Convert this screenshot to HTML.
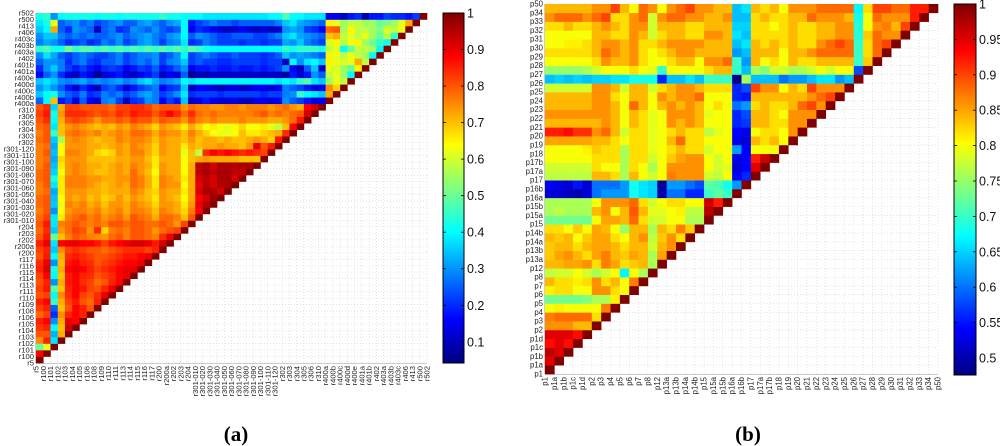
<!DOCTYPE html>
<html><head><meta charset="utf-8"><style>
body{margin:0;background:#fff;}
svg{display:block;font-family:"Liberation Sans",sans-serif;}
</style></head><body>
<svg id="fig" width="1000" height="446" viewBox="0 0 1000 446" xmlns="http://www.w3.org/2000/svg"></svg>
<script>
const labelsA=["r5","r100","r101","r102","r103","r104","r105","r106","r108","r109","r110","r111","r113","r114","r115","r116","r117","r200","r200a","r202","r203","r204","r301-010","r301-020","r301-030","r301-040","r301-050","r301-060","r301-070","r301-080","r301-090","r301-100","r301-110","r301-120","r302","r303","r304","r305","r306","r310","r400a","r400b","r400c","r400d","r400e","r401a","r401b","r402","r403a","r403b","r403c","r406","r413","r500","r502"];
const rowsA=[
[100],
[88,100],
[50,62,100],
[75,85,38,100],
[80,80,33,72,100],
[83,85,40,70,92,100],
[85,88,30,72,90,88,100],
[78,82,20,75,85,88,85,100],
[82,85,25,70,80,88,85,80,100],
[85,88,45,72,82,86,80,78,85,100],
[80,82,40,75,84,88,82,80,84,90,100],
[82,86,48,70,85,88,86,82,80,85,90,100],
[80,85,30,72,86,88,84,82,78,80,85,88,100],
[82,88,40,70,86,88,85,84,80,82,84,88,90,100],
[85,92,42,72,88,90,88,85,82,84,86,88,90,90,100],
[84,90,30,70,86,88,85,84,80,82,84,86,88,88,90,100],
[80,86,40,72,84,86,84,82,80,80,82,84,86,86,88,90,100],
[82,85,35,75,82,84,82,80,80,78,80,82,84,84,84,82,85,100],
[85,90,38,88,90,90,88,88,86,82,86,88,90,92,92,90,86,92,100],
[80,86,50,70,76,80,78,76,75,74,78,80,76,80,80,78,76,84,90,100],
[78,84,35,74,78,82,80,74,84,68,76,78,76,80,80,78,74,78,80,82,100],
[80,86,38,76,78,80,78,76,78,76,80,80,78,80,80,78,78,80,78,74,82,100],
[78,82,38,66,76,78,80,76,78,74,76,78,74,80,78,76,72,78,78,76,70,80,100],
[76,80,30,64,74,76,76,74,76,72,74,76,72,76,76,74,70,76,74,72,68,76,88,100],
[78,80,35,62,76,74,76,72,74,70,74,74,72,76,74,72,68,74,74,72,66,74,90,95,100],
[78,80,34,64,74,72,74,70,72,68,70,74,70,74,72,70,66,74,72,70,64,72,88,92,97,100],
[76,78,32,66,74,74,74,72,72,70,72,72,72,76,74,70,68,74,72,72,66,72,92,96,96,92,100],
[76,80,38,66,76,76,76,74,72,70,72,74,72,78,76,72,66,76,74,74,64,72,90,95,92,95,96,100],
[78,80,42,66,76,76,76,74,74,72,72,74,74,78,76,72,66,76,74,72,66,72,92,94,92,96,96,92,100],
[78,80,36,64,74,76,74,72,70,70,72,74,72,78,74,70,64,74,72,72,64,72,94,96,94,96,96,94,94,100],
[76,80,34,66,74,76,74,72,72,70,72,74,72,76,74,72,66,74,72,72,64,72,94,96,92,96,96,95,96,96,100],
[76,78,32,68,74,74,74,70,70,70,70,72,72,74,74,70,66,72,72,72,64,70,72,74,72,72,72,72,70,70,70,100],
[76,80,34,64,76,76,74,72,68,66,68,74,72,76,76,72,68,74,72,72,62,70,58,84,88,86,88,86,84,86,84,82,100],
[76,78,32,64,74,74,74,72,72,70,72,74,72,76,74,72,68,74,72,72,66,72,70,72,72,74,72,72,70,74,90,80,86,100],
[78,80,35,56,74,76,74,72,70,72,72,76,74,76,76,74,70,74,72,72,70,74,70,72,72,70,72,70,70,72,74,72,68,86,100],
[76,80,45,70,76,78,76,74,76,72,74,76,74,78,78,76,72,76,74,74,70,76,72,68,64,62,62,64,70,66,66,68,70,72,84,100],
[78,80,38,70,74,76,74,72,70,72,70,74,72,76,74,72,68,74,72,70,66,72,68,64,66,64,62,64,68,64,64,66,62,58,70,88,100],
[80,84,40,72,80,82,80,78,74,78,78,80,78,82,80,80,76,80,78,78,74,80,76,74,76,74,74,74,76,74,74,74,72,72,74,78,86,100],
[82,86,42,74,84,84,84,82,80,82,80,84,82,86,84,84,80,84,88,84,78,84,78,76,78,76,76,76,76,76,78,80,76,78,76,78,80,92,100],
[80,84,36,72,82,82,80,80,80,80,78,82,82,84,84,82,78,80,80,80,74,78,76,76,74,74,76,76,74,76,76,76,74,76,78,74,72,88,92,100],
[25,40,70,18,22,12,25,15,12,28,30,22,10,20,22,30,28,15,22,18,35,10,14,18,14,12,12,14,10,10,15,14,12,15,30,25,22,18,12,15,100],
[35,40,42,30,25,22,28,20,22,28,25,28,22,25,30,32,28,22,25,30,38,20,22,22,22,20,22,22,22,22,22,20,22,22,28,30,45,40,38,35,72,100],
[30,35,30,25,18,12,20,15,10,22,25,20,12,18,22,25,28,15,20,22,35,10,15,15,12,10,12,14,10,12,15,14,12,15,28,25,22,18,12,15,75,68,100],
[35,38,35,30,28,30,32,28,30,28,30,32,28,30,35,38,32,28,30,32,40,38,40,40,40,40,40,40,40,40,40,40,40,38,40,38,45,48,38,35,55,62,58,100],
[15,25,30,20,12,10,18,14,5,12,15,18,12,10,15,18,22,10,15,12,25,5,10,8,12,10,10,12,10,10,12,10,12,10,8,18,12,18,30,25,58,62,55,40,100],
[20,30,35,28,22,18,22,18,15,20,22,20,15,18,22,20,25,18,20,25,30,15,18,18,20,18,18,20,18,18,20,18,20,22,30,15,10,25,35,12,62,60,55,50,65,100],
[25,30,30,28,20,25,28,22,20,25,25,28,22,25,28,25,30,22,28,30,35,22,25,22,22,20,20,22,22,22,22,20,22,22,10,40,30,38,40,35,65,62,60,62,72,58,100],
[30,38,32,25,22,25,28,25,22,22,25,28,22,25,28,28,30,22,25,30,40,22,25,28,25,22,22,25,22,22,22,20,22,25,35,30,32,30,28,25,65,62,58,62,58,55,40,100],
[45,48,42,42,52,45,48,48,45,48,45,48,45,48,45,48,45,48,45,48,45,48,45,42,40,40,40,40,40,40,40,40,40,40,45,42,45,45,45,42,58,62,40,50,58,58,55,40,100],
[28,32,30,25,20,22,25,20,22,28,25,30,22,25,30,32,28,22,28,30,38,20,22,28,25,22,22,22,20,22,22,20,22,22,32,30,35,28,25,22,60,65,58,62,65,55,50,45,42,100],
[30,35,35,28,25,28,25,28,25,25,28,30,25,28,30,32,28,25,30,32,40,25,30,28,25,22,22,25,25,25,22,22,25,28,35,38,32,30,28,25,70,72,58,62,58,62,55,50,58,45,100],
[35,40,72,25,20,30,28,25,10,25,28,20,22,30,28,25,30,25,22,25,40,15,20,18,15,12,10,12,15,12,10,12,10,12,30,32,30,22,20,15,78,80,55,65,58,58,55,52,60,58,62,100],
[38,42,62,25,28,30,25,28,22,25,28,30,25,25,30,32,28,25,30,32,40,18,22,25,28,25,25,22,25,25,25,25,25,28,35,38,32,30,28,25,65,62,55,58,58,55,55,50,52,55,62,72,100],
[42,45,30,40,42,42,42,42,40,42,42,40,42,42,42,42,42,45,42,42,40,40,40,38,38,38,38,38,38,38,38,38,40,40,48,40,40,38,38,38,15,15,10,18,20,8,18,18,22,20,20,18,22,100]
];
const ticksA=[0.1,0.2,0.3,0.4,0.5,0.6,0.7,0.8,0.9,1];
const labelsB=["p1","p1a","p1b","p1c","p1d","p2","p3","p4","p5","p6","p7","p8","p12","p13a","p13b","p14a","p14b","p15","p15a","p15b","p16a","p16b","p17","p17a","p17b","p18","p19","p20","p21","p22","p23","p24","p25","p26","p27","p28","p29","p30","p31","p32","p33","p34","p50"];
const rowsB=[
[100],
[95,100],
[97,95,100],
[93,95,93,100],
[95,95,95,93,100],
[86,86,86,84,84,100],
[87,88,88,88,88,82,100],
[80,81,80,80,80,80,87,100],
[73,73,73,73,74,76,76,81,100],
[81,82,82,80,80,86,86,82,80,100],
[84,82,82,81,82,86,82,84,80,87,100],
[77,78,78,80,78,76,78,80,67,80,76,100],
[84,84,85,85,86,82,87,85,82,83,84,76,100],
[83,85,86,84,82,85,87,84,83,85,84,76,85,100],
[83,84,84,82,84,85,85,84,82,84,84,78,84,86,100],
[84,83,84,80,83,85,85,82,80,84,86,77,83,86,82,100],
[82,82,80,83,80,85,84,80,75,84,84,76,84,82,87,83,100],
[73,73,73,73,73,80,85,85,84,88,82,78,78,80,80,76,76,100],
[76,77,76,76,76,84,86,80,84,89,84,79,79,80,81,77,77,97,100],
[76,76,76,76,76,80,86,86,86,88,82,78,80,82,82,80,80,96,92,100],
[52,52,51,50,52,60,62,62,62,68,66,65,50,60,60,56,56,70,72,70,100],
[54,53,52,55,52,60,60,60,62,68,66,65,49,62,62,60,58,72,71,68,62,100],
[77,77,77,77,77,84,84,82,76,84,80,78,80,87,86,86,86,78,77,80,54,56,100],
[78,78,78,78,78,82,80,80,76,82,80,76,80,86,86,86,86,80,78,79,52,54,95,100],
[80,80,80,80,80,82,82,82,76,82,82,78,80,83,85,86,86,80,78,80,53,54,92,96,100],
[80,80,80,80,81,83,82,82,76,82,82,79,80,82,84,82,82,78,80,80,62,54,80,80,80,100],
[85,85,85,85,85,84,84,82,80,82,82,79,80,84,88,82,82,80,80,80,53,52,84,82,84,80,100],
[92,92,93,91,91,86,88,84,78,82,82,79,80,82,84,82,82,77,79,80,54,53,80,82,82,80,86,100],
[84,84,84,84,84,84,86,84,80,84,82,79,80,86,84,86,84,80,80,80,56,57,84,84,82,82,86,86,100],
[86,86,86,86,86,86,86,84,80,84,82,79,80,86,86,86,84,79,80,80,56,58,84,84,82,80,86,86,86,100],
[84,84,84,84,84,86,86,84,80,88,84,80,84,86,84,86,84,80,82,80,60,62,82,84,82,82,84,88,90,86,100],
[84,84,84,84,84,86,86,82,80,84,84,80,86,84,86,86,88,80,80,80,56,55,84,84,84,84,84,84,86,88,90,100],
[78,78,78,78,78,86,86,84,78,84,84,78,82,84,86,86,84,82,82,82,56,58,90,86,86,80,84,82,90,86,86,86,100],
[64,65,64,65,64,65,65,66,66,68,68,68,56,64,64,66,64,70,70,70,48,76,64,64,64,60,62,62,64,66,66,62,64,100],
[75,75,75,75,76,78,80,80,80,82,80,79,70,80,80,80,80,82,84,84,70,64,76,74,78,78,76,76,78,80,78,80,80,58,100],
[80,80,80,80,80,82,86,84,84,86,82,80,80,82,84,84,80,86,86,88,70,62,84,80,82,80,84,82,82,84,84,84,84,70,83,100],
[82,82,82,82,82,84,88,86,84,86,82,80,82,84,86,86,84,84,84,84,62,64,84,84,84,80,84,84,86,88,88,88,88,70,82,88,100],
[80,80,81,81,82,84,86,86,84,86,82,82,84,86,86,86,86,84,84,84,64,66,84,82,84,82,84,82,82,86,88,90,88,70,82,88,90,100],
[80,80,80,80,80,84,84,82,82,86,84,78,82,84,84,82,82,86,86,84,66,64,82,82,82,82,84,82,82,84,84,86,86,69,83,88,86,86,100],
[82,82,84,82,82,84,86,84,82,86,86,78,84,84,84,82,82,84,84,84,65,65,82,82,80,82,84,82,82,84,84,86,86,69,80,86,87,84,90,100],
[86,88,88,88,86,88,90,82,82,86,88,78,86,88,88,86,86,84,84,86,64,64,82,84,82,82,84,84,88,86,86,86,84,68,80,88,86,86,86,92,100],
[84,84,84,84,84,86,86,90,84,80,88,86,80,86,88,90,86,86,84,84,64,66,84,82,84,80,86,86,86,88,88,88,88,67,82,90,90,88,88,92,92,100]
];
const ticksB=[0.5,0.55,0.6,0.65,0.7,0.75,0.8,0.85,0.9,0.95,1];

const NS="http://www.w3.org/2000/svg";
const svg=document.getElementById('fig');
function mk(tag,attrs,parent){const e=document.createElementNS(NS,tag);for(const k in attrs)e.setAttribute(k,attrs[k]);(parent||svg).appendChild(e);return e;}
function cl(v){return Math.max(0,Math.min(1,v));}
function jet(t){t=cl(t);const r=cl(1.5-Math.abs(4*t-3)),g=cl(1.5-Math.abs(4*t-2)),b=cl(1.5-Math.abs(4*t-1));return `rgb(${Math.round(r*255)},${Math.round(g*255)},${Math.round(b*255)})`;}

function panel(cfg){
  const g=mk('g',{});
  
  
  const n=cfg.rows.length;
  const cw=(cfg.x1-cfg.x0)/n, ch=(cfg.y1-cfg.y0)/n;
  const xS=j=>cfg.x0+j*cw;
  const yS=i=>cfg.y1-i*ch;
  const col=v=>jet((v/100-cfg.vmin)/(cfg.vmax-cfg.vmin));
  // grid
  const grid=mk('g',{stroke:'#d4d4d4','stroke-width':'0.6','stroke-dasharray':'1,2'},g);
  
  
  for(let k=0;k<=n;k++){
    mk('line',{x1:xS(k),y1:cfg.y0,x2:xS(k),y2:cfg.y1},grid);
    mk('line',{x1:cfg.x0,y1:yS(k),x2:cfg.x1,y2:yS(k)},grid);
  }
  mk('line',{x1:cfg.x0,y1:cfg.y1+0.5,x2:cfg.x1,y2:cfg.y1+0.5,stroke:'#ccc','stroke-width':'1'},g);
  mk('line',{x1:cfg.x0-0.5,y1:cfg.y0,x2:cfg.x0-0.5,y2:cfg.y1,stroke:'#ccc','stroke-width':'1'},g);
  const cells=mk('g',{},g);
  
  
  cfg.rows.forEach((row,i)=>{
    row.forEach((v,j)=>{
      const r=mk('rect',{x:xS(j),y:yS(i+1),width:cw+0.3,height:ch+0.3,fill:col(v)},cells);
      
      
    });
  });
  cfg.labels.forEach((lb,k)=>{
    const t=mk('text',{x:cfg.x0-2,y:yS(k)+2.5,'font-size':cfg.fs,'text-anchor':'end',fill:'#222'},g);
    t.textContent=lb;
    
    
    const xx=xS(k)+2.6;
    const u=mk('text',{x:0,y:0,'font-size':cfg.fs,'text-anchor':'end',fill:'#222',transform:`translate(${xx},${cfg.y1+3}) rotate(-90)`},g);
    u.textContent=lb;
    
    
  });
  // colorbar
  const cb=mk('g',{},g);
  
  
  const gid='grad'+cfg.name;
  const defs=mk('defs',{},cb);
  const lg=mk('linearGradient',{id:gid,x1:0,y1:1,x2:0,y2:0},defs);
  for(let s=0;s<=64;s++){mk('stop',{offset:s/64,'stop-color':jet(s/64)},lg);}
  const cbH=cfg.cy1-cfg.cy0;
  mk('rect',{x:cfg.cx0,y:cfg.cy0,width:cfg.cx1-cfg.cx0,height:cbH,fill:`url(#${gid})`,stroke:'#000','stroke-width':'1'},cb);
  const yc=v=>cfg.cy1-(v-cfg.vmin)/(cfg.vmax-cfg.vmin)*cbH;
  cfg.ticks.forEach(tv=>{
    const y=yc(tv);
    mk('line',{x1:cfg.cx0,y1:y,x2:cfg.cx0+3,y2:y,stroke:'#000','stroke-width':'0.8'},cb);
    mk('line',{x1:cfg.cx1-3,y1:y,x2:cfg.cx1,y2:y,stroke:'#000','stroke-width':'0.8'},cb);
    const t=mk('text',{x:cfg.cx1+3,y:y+4.5,'font-size':'12.5',fill:'#111'},cb);
    t.textContent=String(tv);
    
    
  });
  const tt=mk('text',{x:cfg.tx,y:441,'font-size':'21','font-weight':'bold','text-anchor':'middle','font-family':'"Liberation Serif",serif',fill:'#000'},g);
  tt.textContent=cfg.title;
  
  
}
panel({name:'a',rows:rowsA,labels:labelsA,ticks:ticksA,x0:36,x1:427,y0:13,y1:363,vmin:0.042,vmax:1,cx0:443,cx1:464,cy0:13,cy1:363,fs:'7.6',tx:236,title:'(a)'});
panel({name:'b',rows:rowsB,labels:labelsB,ticks:ticksB,x0:545,x1:938,y0:4,y1:374,vmin:0.476,vmax:1,cx0:954,cx1:976,cy0:4,cy1:375,fs:'7.8',tx:748,title:'(b)'});
</script>
</body></html>
